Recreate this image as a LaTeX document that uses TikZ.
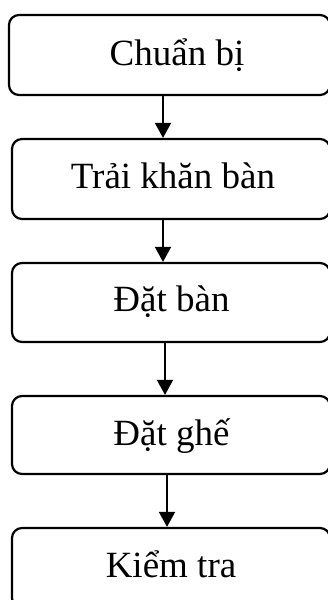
\documentclass[tikz,border=0pt]{standalone}
\usepackage{fontspec}
\setmainfont{Liberation Serif}
\usetikzlibrary{arrows.meta}
\tikzset{
  stepbox/.style={draw=black, line width=2.2pt, rounded corners=10pt, rectangle, inner sep=0pt},
  steptext/.style={anchor=base, inner sep=0pt, font=\fontsize{37}{40}\selectfont},
  arr/.style={line width=1.7pt, -{Triangle[width=16pt,length=15pt]}}
}
\begin{document}
\begin{tikzpicture}[x=1pt,y=-1pt]
\useasboundingbox (0,0) rectangle (328,600);
\clip (0,0) rectangle (328,600);
\node[stepbox, minimum width=321pt, minimum height=80pt] (b1) at (169.5,55) {};
\node[stepbox, minimum width=318pt, minimum height=80pt] (b2) at (171,179) {};
\node[stepbox, minimum width=318pt, minimum height=79pt] (b3) at (171,302.5) {};
\node[stepbox, minimum width=318pt, minimum height=78pt] (b4) at (171,435) {};
\node[stepbox, minimum width=318pt, minimum height=80pt] (b5) at (171,568) {};
\node[steptext] (t1) at (177,65) {Chuẩn bị};
\node[steptext] (t2) at (173,188) {Trải khăn bàn};
\node[steptext] (t3) at (171.5,311) {Đặt bàn};
\node[steptext] (t4) at (171.5,445) {Đặt ghế};
\node[steptext] (t5) at (171,577) {Kiểm tra};
\coordinate (x1) at (163,0);
\coordinate (x2) at (163,0);
\coordinate (x3) at (165,0);
\coordinate (x4) at (167,0);
\draw[arr] (b1.south -| x1) -- (b2.north -| x1);
\draw[arr] (b2.south -| x2) -- (b3.north -| x2);
\draw[arr] (b3.south -| x3) -- (b4.north -| x3);
\draw[arr] (b4.south -| x4) -- (b5.north -| x4);
\end{tikzpicture}
\end{document}
